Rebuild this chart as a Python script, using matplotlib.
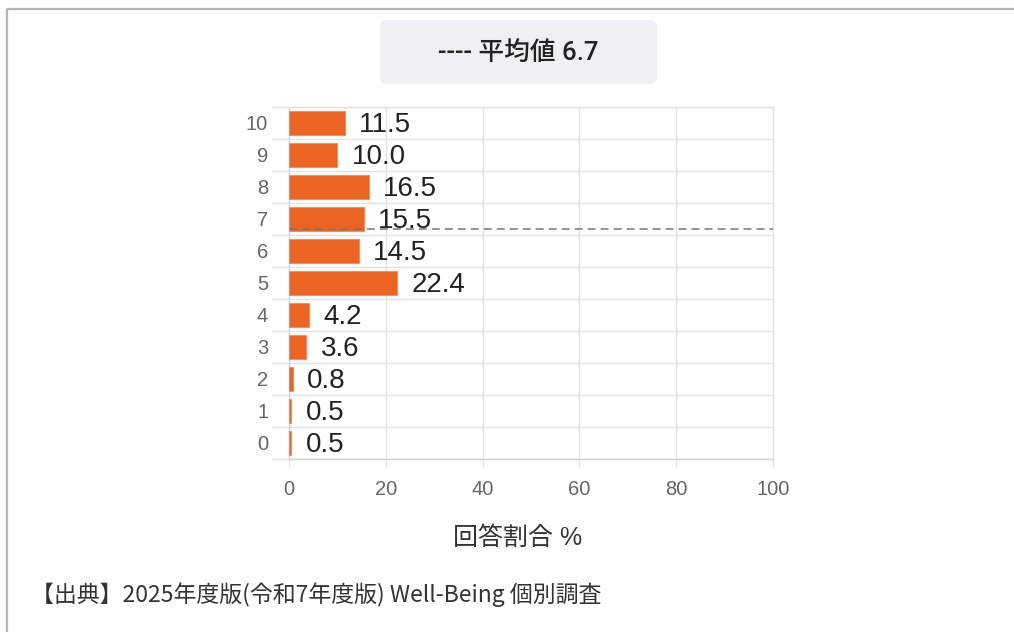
import matplotlib
matplotlib.use('Agg')
import matplotlib.pyplot as plt
from matplotlib.patches import FancyBboxPatch

# ______________________________________________________________________________
# DATA
# ______________________________________________________________________________

scores = [0, 1, 2, 3, 4, 5, 6, 7, 8, 9, 10]
shares = [0.5, 0.5, 0.8, 3.6, 4.2, 22.4, 14.5, 15.5, 16.5, 10.0, 11.5]
mean_score = 6.7

x_ticks = [0, 20, 40, 60, 80, 100]
x_label = '回答割合 %'
legend_text = f'---- 平均値 {mean_score}'
source_text = '【出典】2025年度版(令和7年度版) Well-Being 個別調査'

# ______________________________________________________________________________
# STYLE
# ______________________________________________________________________________

plt.rcParams['font.family'] = ['Liberation Sans', 'Noto Sans CJK JP', 'DejaVu Sans']
bar_colour = '#EC6424'
grid_colour = '#e3e3e3'
tick_colour = '#666666'

W, H = 1014, 632
fig = plt.figure(figsize=(W / 100, H / 100), dpi=100)

# plot area in pixels: x 289..773, y 107..459
ax = fig.add_axes([289 / W, 1 - 459 / H, 484 / W, 352 / H])

ax.barh(scores, shares, height=0.72, color=bar_colour, edgecolor='#f08a5a', linewidth=0.6, zorder=3)

for s, v in zip(scores, shares):
    ax.annotate(f'{v:.1f}', (v, s), xytext=(14, -2), textcoords='offset pixels',
                va='center', ha='left', fontsize=20, color='#222222', zorder=4)

ax.axhline(mean_score, color='#777777', linewidth=1.1, linestyle=(0, (5.2, 3.3)), zorder=4)

ax.set_xlim(0, 100)
ax.set_ylim(-0.5, 10.5)

ax.set_xticks(x_ticks)
ax.set_yticks(scores)
ax.set_yticklabels([str(s) for s in scores])
ax.set_yticks([s - 0.5 for s in scores] + [10.5], minor=True)

ax.tick_params(axis='y', which='major', length=0, pad=15, labelsize=14.5, labelcolor=tick_colour)
ax.tick_params(axis='y', which='minor', length=12, width=1, color=grid_colour)
ax.tick_params(axis='x', which='major', length=6, width=1, color=grid_colour, pad=9,
               labelsize=14.5, labelcolor=tick_colour)

ax.grid(axis='x', which='major', color=grid_colour, linewidth=1, zorder=0)
ax.grid(axis='y', which='minor', color=grid_colour, linewidth=1, zorder=0)
ax.set_axisbelow(True)

for side in ['top', 'right']:
    ax.spines[side].set_color(grid_colour)
for side in ['left', 'bottom']:
    ax.spines[side].set_color('#d4d4d4')
for sp in ax.spines.values():
    sp.set_linewidth(1)

ax.set_xlabel(x_label, fontsize=18, color='#333333')
ax.xaxis.set_label_coords((518 - 289) / 484, -(538 - 459) / 352)
ax.xaxis.label.set_va('center')

# ______________________________________________________________________________
# DECORATION (legend box, frame, source)
# ______________________________________________________________________________

deco = fig.add_axes([0, 0, 1, 1], zorder=-1)
deco.set_xlim(0, W)
deco.set_ylim(H, 0)
deco.axis('off')

box = FancyBboxPatch((380, 20), 277, 64, boxstyle='round,pad=0,rounding_size=7',
                     facecolor='#f0f0f3', edgecolor='none')
deco.add_patch(box)
deco.text(518, 53, legend_text, ha='center', va='center', fontsize=18.5,
          family=['Roboto', 'Noto Sans CJK JP'], fontweight='medium', color='#222222')

deco.plot([7, W], [9, 9], color='#b4b4b4', linewidth=1.6, solid_capstyle='butt')
deco.plot([7, 7], [9, H], color='#b4b4b4', linewidth=1.6, solid_capstyle='butt')

deco.text(31, 595, source_text, ha='left', va='center', fontsize=16.5,
          family=['Noto Sans CJK JP', 'DejaVu Sans'], color='#333333')

fig.savefig('out.png', dpi=100)
